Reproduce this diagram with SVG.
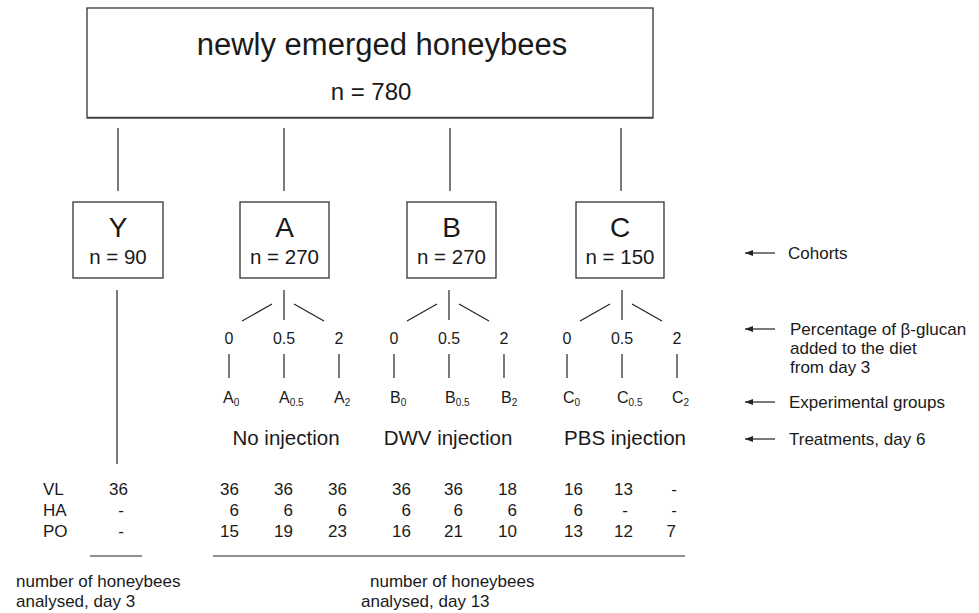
<svg xmlns="http://www.w3.org/2000/svg" width="979" height="613" viewBox="0 0 979 613">
<defs>
<style>
text{font-family:"Liberation Sans",Arial,sans-serif;fill:#1a1a1a}
.box{fill:#fff;stroke:#333;stroke-width:1.3}
.ln{stroke:#222;stroke-width:1.2;fill:none}
.big{font-size:28px;text-anchor:middle}
.n{font-size:20.5px;text-anchor:middle}
.pct{font-size:16px;text-anchor:middle}
.grp{font-size:16px}
.sub{font-size:10px}
.trt{font-size:20.5px;text-anchor:middle}
.tb{font-size:17px}
.r{text-anchor:end}
.m{text-anchor:middle}
.lbl{font-size:17px}
</style>
<marker id="ah" viewBox="0 0 8 6" refX="8" refY="3" markerWidth="8" markerHeight="6" markerUnits="userSpaceOnUse" orient="auto">
<path d="M0,0 L8,3 L0,6 Z" fill="#222"/>
</marker>
</defs>
<rect width="979" height="613" fill="#fff"/>

<g id="root">
<rect class="box" x="87" y="8" width="566" height="110"/>
<line x1="87" y1="117.5" x2="653" y2="117.5" stroke="#444" stroke-width="1.5"/>
<text x="382" y="55" style="font-size:31px;text-anchor:middle">newly emerged honeybees</text>
<text x="371" y="100" style="font-size:24px;text-anchor:middle">n = 780</text>
</g>

<g id="connectors">
<line class="ln" x1="118" y1="128" x2="118" y2="191"/>
<line class="ln" x1="284" y1="128" x2="284" y2="191"/>
<line class="ln" x1="450" y1="128" x2="450" y2="191"/>
<line class="ln" x1="621" y1="128" x2="621" y2="191"/>
<line class="ln" x1="117" y1="290" x2="117" y2="464"/>
<!-- A branches -->
<line class="ln" x1="284" y1="290" x2="284" y2="320"/>
<line class="ln" x1="272" y1="304" x2="242" y2="321"/>
<line class="ln" x1="294" y1="304" x2="324" y2="321"/>
<line class="ln" x1="229" y1="354" x2="229" y2="378"/>
<line class="ln" x1="284" y1="354" x2="284" y2="378"/>
<line class="ln" x1="339" y1="354" x2="339" y2="378"/>
<!-- B branches -->
<line class="ln" x1="449" y1="290" x2="449" y2="320"/>
<line class="ln" x1="437" y1="304" x2="407" y2="321"/>
<line class="ln" x1="459" y1="304" x2="489" y2="321"/>
<line class="ln" x1="394" y1="354" x2="394" y2="378"/>
<line class="ln" x1="449" y1="354" x2="449" y2="378"/>
<line class="ln" x1="504" y1="354" x2="504" y2="378"/>
<!-- C branches -->
<line class="ln" x1="622" y1="290" x2="622" y2="320"/>
<line class="ln" x1="610" y1="304" x2="580" y2="321"/>
<line class="ln" x1="632" y1="304" x2="662" y2="321"/>
<line class="ln" x1="567" y1="354" x2="567" y2="378"/>
<line class="ln" x1="622" y1="354" x2="622" y2="378"/>
<line class="ln" x1="677" y1="354" x2="677" y2="378"/>
<!-- legend arrows -->
<line class="ln" x1="775" y1="253" x2="745" y2="253" marker-end="url(#ah)"/>
<line class="ln" x1="775" y1="329" x2="745" y2="329" marker-end="url(#ah)"/>
<line class="ln" x1="775" y1="402" x2="745" y2="402" marker-end="url(#ah)"/>
<line class="ln" x1="775" y1="439" x2="745" y2="439" marker-end="url(#ah)"/>
<!-- table rules -->
<line class="ln" x1="90" y1="556" x2="142" y2="556"/>
<line class="ln" x1="213" y1="556" x2="685" y2="556"/>
</g>

<g id="cohort-Y">
<rect class="box" x="73" y="202" width="90" height="76"/>
<text class="big" x="118" y="237">Y</text>
<text class="n" x="118" y="264">n = 90</text>
</g>
<g id="cohort-A">
<rect class="box" x="240" y="202" width="89" height="76"/>
<text class="big" x="284.5" y="237">A</text>
<text class="n" x="284.5" y="264">n = 270</text>
</g>
<g id="cohort-B">
<rect class="box" x="407" y="202" width="89" height="76"/>
<text class="big" x="451.5" y="237">B</text>
<text class="n" x="451.5" y="264">n = 270</text>
</g>
<g id="cohort-C">
<rect class="box" x="576" y="202" width="88" height="76"/>
<text class="big" x="620" y="237">C</text>
<text class="n" x="620" y="264">n = 150</text>
</g>

<g id="percentages">
<text class="pct" x="229" y="344">0</text>
<text class="pct" x="284" y="344">0.5</text>
<text class="pct" x="339" y="344">2</text>
<text class="pct" x="394" y="344">0</text>
<text class="pct" x="449" y="344">0.5</text>
<text class="pct" x="504" y="344">2</text>
<text class="pct" x="567" y="344">0</text>
<text class="pct" x="622" y="344">0.5</text>
<text class="pct" x="677" y="344">2</text>
</g>

<g id="groups">
<text class="grp" x="223" y="403">A<tspan class="sub" dy="3">0</tspan></text>
<text class="grp" x="279" y="403">A<tspan class="sub" dy="3">0.5</tspan></text>
<text class="grp" x="334" y="403">A<tspan class="sub" dy="3">2</tspan></text>
<text class="grp" x="390" y="403">B<tspan class="sub" dy="3">0</tspan></text>
<text class="grp" x="445" y="403">B<tspan class="sub" dy="3">0.5</tspan></text>
<text class="grp" x="501" y="403">B<tspan class="sub" dy="3">2</tspan></text>
<text class="grp" x="563" y="403">C<tspan class="sub" dy="3">0</tspan></text>
<text class="grp" x="617" y="403">C<tspan class="sub" dy="3">0.5</tspan></text>
<text class="grp" x="672" y="403">C<tspan class="sub" dy="3">2</tspan></text>
</g>

<g id="treatments">
<text class="trt" x="286" y="445">No injection</text>
<text class="trt" x="448" y="445">DWV injection</text>
<text class="trt" x="625" y="445">PBS injection</text>
</g>

<g id="table" class="tb">
<text class="tb" x="43" y="495">VL</text>
<text class="tb" x="43" y="516">HA</text>
<text class="tb" x="43" y="537">PO</text>
<text class="tb r" x="128" y="495">36</text>
<text class="tb m" x="121" y="516">-</text>
<text class="tb m" x="121" y="537">-</text>

<text class="tb r" x="239" y="495">36</text>
<text class="tb r" x="239" y="516">6</text>
<text class="tb r" x="239" y="537">15</text>
<text class="tb r" x="293" y="495">36</text>
<text class="tb r" x="293" y="516">6</text>
<text class="tb r" x="293" y="537">19</text>
<text class="tb r" x="347" y="495">36</text>
<text class="tb r" x="347" y="516">6</text>
<text class="tb r" x="347" y="537">23</text>

<text class="tb r" x="411" y="495">36</text>
<text class="tb r" x="411" y="516">6</text>
<text class="tb r" x="411" y="537">16</text>
<text class="tb r" x="463" y="495">36</text>
<text class="tb r" x="463" y="516">6</text>
<text class="tb r" x="463" y="537">21</text>
<text class="tb r" x="517" y="495">18</text>
<text class="tb r" x="517" y="516">6</text>
<text class="tb r" x="517" y="537">10</text>

<text class="tb r" x="583" y="495">16</text>
<text class="tb r" x="583" y="516">6</text>
<text class="tb r" x="583" y="537">13</text>
<text class="tb r" x="633" y="495">13</text>
<text class="tb m" x="625" y="516">-</text>
<text class="tb r" x="633" y="537">12</text>
<text class="tb m" x="674" y="495">-</text>
<text class="tb m" x="674" y="516">-</text>
<text class="tb r" x="676" y="537">7</text>
</g>

<g id="footnotes">
<text class="lbl" x="16" y="587">number of honeybees</text>
<text class="lbl" x="16" y="607">analysed, day 3</text>
<text class="lbl" x="370" y="587">number of honeybees</text>
<text class="lbl" x="361" y="607">analysed, day 13</text>
</g>

<g id="legend">
<text class="lbl" x="788" y="259">Cohorts</text>
<text class="lbl" x="790" y="335">Percentage of β-glucan</text>
<text class="lbl" x="790" y="354">added to the diet</text>
<text class="lbl" x="790" y="373">from day 3</text>
<text class="lbl" x="789" y="408">Experimental groups</text>
<text class="lbl" x="789" y="445">Treatments, day 6</text>
</g>
</svg>
